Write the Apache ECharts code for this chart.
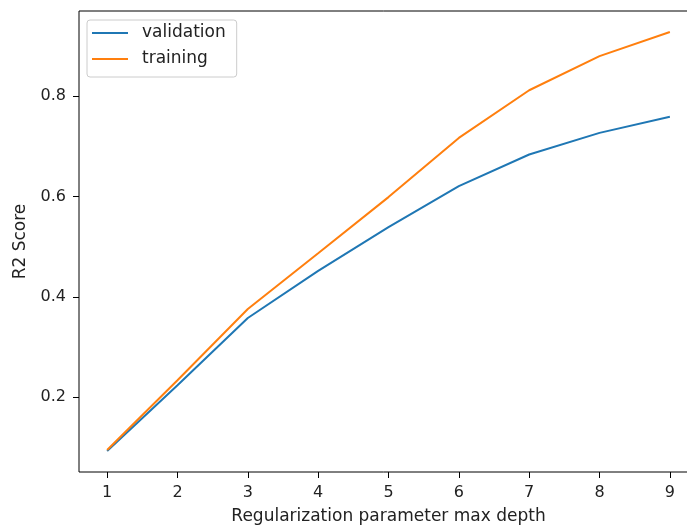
<!DOCTYPE html>
<html>
<head>
<meta charset="utf-8">
<script src="https://cdn.jsdelivr.net/npm/echarts@6/dist/echarts.min.js"></script>
<style>
html,body{margin:0;padding:0;background:#fff;}
#chart{width:687px;height:528px;}
</style>
</head>
<body>
<div id="chart"></div>
<script>
const depths = [1, 2, 3, 4, 5, 6, 7, 8, 9];
const validation = [0.093, 0.224, 0.358, 0.452, 0.539, 0.621, 0.684, 0.727, 0.759];
const training = [0.095, 0.234, 0.376, 0.487, 0.599, 0.717, 0.812, 0.880, 0.928];
const xTicks = [1, 2, 3, 4, 5, 6, 7, 8, 9];
const yTicks = [0.2, 0.4, 0.6, 0.8];

const font = 'DejaVu Sans';
const chart = echarts.init(document.getElementById('chart'), null, {renderer: 'canvas'});
const axisLineStyle = {color: '#000', width: 1};
chart.setOption({
  animation: false,
  backgroundColor: '#fff',
  grid: {left: 79, top: 11, width: 619, height: 461, show: true, borderColor: '#000', borderWidth: 1,
         containLabel: false, outerBoundsMode: 'none'},
  legend: {
    orient: 'vertical', left: 87, top: 20,
    padding: [4, 11, 9, 5],
    itemWidth: 36, itemHeight: 2, itemGap: 8, icon: 'rect',
    borderColor: '#ccc', borderWidth: 1, borderRadius: 3,
    backgroundColor: 'rgba(255,255,255,0.8)',
    textStyle: {fontFamily: font, fontSize: 17, color: '#222', lineHeight: 18, padding: [0, 0, 0, 9]},
    data: ['validation', 'training']
  },
  xAxis: {
    type: 'value', min: 0.6, max: 9.4,
    name: 'Regularization parameter max depth', nameLocation: 'middle', nameGap: 36,
    nameTextStyle: {fontFamily: font, fontSize: 17, color: '#222'},
    axisLine: {show: false},
    axisTick: {show: true, length: 6, lineStyle: axisLineStyle, customValues: xTicks},
    axisLabel: {fontFamily: font, fontSize: 16, color: '#222', margin: 13, customValues: xTicks},
    splitLine: {show: false}
  },
  yAxis: {
    type: 'value', min: 0.051, max: 0.97,
    name: 'R2 Score', nameLocation: 'middle', nameGap: 50, nameRotate: 90,
    nameTextStyle: {fontFamily: font, fontSize: 17, color: '#222'},
    axisLine: {show: false},
    axisTick: {show: true, length: 6, lineStyle: axisLineStyle, customValues: yTicks},
    axisLabel: {fontFamily: font, fontSize: 16, color: '#222', margin: 13, customValues: yTicks,
      formatter: v => v.toFixed(1)},
    splitLine: {show: false}
  },
  series: [
    {name: 'validation', type: 'line', data: depths.map((d, i) => [d, validation[i]]),
     showSymbol: false, lineStyle: {color: '#1f77b4', width: 2}, itemStyle: {color: '#1f77b4'}},
    {name: 'training', type: 'line', data: depths.map((d, i) => [d, training[i]]),
     showSymbol: false, lineStyle: {color: '#ff7f0e', width: 2}, itemStyle: {color: '#ff7f0e'}}
  ]
});
</script>
</body>
</html>
